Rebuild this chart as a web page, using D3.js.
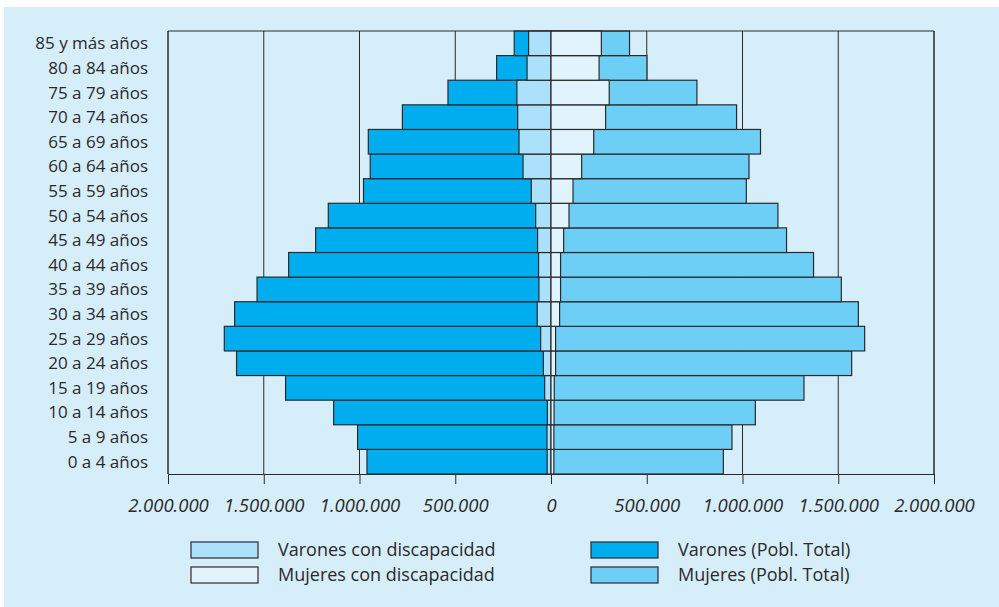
<!DOCTYPE html>
<html>
<head>
<meta charset="utf-8">
<script src="https://cdn.jsdelivr.net/npm/d3@7"></script>
<style>
  body { margin: 0; background: white; }
  text { font-family: "Open Sans", sans-serif; fill: #2b2a2a; }
</style>
</head>
<body>
<script>
var width = 999
var height = 607

var ageGroups = ["0 a 4 años", "5 a 9 años", "10 a 14 años", "15 a 19 años", "20 a 24 años",
    "25 a 29 años", "30 a 34 años", "35 a 39 años", "40 a 44 años", "45 a 49 años",
    "50 a 54 años", "55 a 59 años", "60 a 64 años", "65 a 69 años", "70 a 74 años",
    "75 a 79 años", "80 a 84 años", "85 y más años"]

var varonesTotal = [961000, 1010000, 1135000, 1386000, 1642000, 1706000, 1652000, 1535000, 1370000,
    1229000, 1163000, 979000, 944000, 954000, 776000, 538000, 284000, 192000]
var mujeresTotal = [900000, 945000, 1067000, 1321000, 1570000, 1638000, 1605000, 1516000, 1371000,
    1230000, 1185000, 1020000, 1034000, 1094000, 969000, 762000, 501000, 410000]
var varonesDisc = [20000, 21000, 19000, 33000, 40000, 54000, 72000, 63000, 65000,
    70000, 80000, 103000, 146000, 167000, 174000, 178000, 125000, 117000]
var mujeresDisc = [15000, 15000, 16000, 17000, 24000, 24000, 45000, 50000, 50000,
    66000, 94000, 115000, 160000, 223000, 285000, 304000, 251000, 263000]

var xTicks = [-2000000, -1500000, -1000000, -500000, 0, 500000, 1000000, 1500000, 2000000]

var legendLabels = ["Varones con discapacidad", "Mujeres con discapacidad", "Varones (Pobl. Total)", "Mujeres (Pobl. Total)"]

var bgColor = "#d6edfa"
var varonesColor = "#00aeef"
var mujeresColor = "#6dcff6"
var varonesDiscColor = "#abe1fa"
var mujeresDiscColor = "#e1f4fd"
var lineColor = "#2b2a2a"

var locale = d3.formatLocale({ decimal: ",", thousands: ".", grouping: [3], currency: ["", ""] })
var fmt = locale.format(",")

var svg = d3.select("body").append("svg")
    .attr("width", width)
    .attr("height", height)

svg.append("rect")
    .attr("x", 4).attr("y", 7)
    .attr("width", width - 4).attr("height", height - 7)
    .attr("fill", bgColor)

var x = d3.scaleLinear().domain([-2000000, 2000000]).range([168, 934])
var y = d3.scaleBand().domain(ageGroups.slice().reverse()).range([31, 474]).padding(0)

var rows = ageGroups.map(function (g, i) {
    return { group: g, vt: varonesTotal[i], mt: mujeresTotal[i], vd: varonesDisc[i], md: mujeresDisc[i] }
})

// grid
svg.append("g").selectAll("line")
    .data(xTicks)
    .enter().append("line")
    .attr("x1", function (d) { return x(d) }).attr("x2", function (d) { return x(d) })
    .attr("y1", 31).attr("y2", 474)
    .attr("stroke", lineColor)
    .attr("stroke-width", 1)

function drawBars(key, color, sign) {
    svg.append("g").selectAll("rect")
        .data(rows)
        .enter().append("rect")
        .attr("x", function (d) { return sign < 0 ? x(-d[key]) : x(0) })
        .attr("width", function (d) { return Math.abs(x(d[key]) - x(0)) })
        .attr("y", function (d) { return y(d.group) })
        .attr("height", y.bandwidth())
        .attr("fill", color)
        .attr("stroke", lineColor)
        .attr("stroke-width", 1.2)
}

drawBars("vt", varonesColor, -1)
drawBars("mt", mujeresColor, 1)
drawBars("vd", varonesDiscColor, -1)
drawBars("md", mujeresDiscColor, 1)

// frame
svg.append("path")
    .attr("d", "M" + x(-2000000) + "," + 474 + "V31H" + x(2000000) + "V474")
    .attr("fill", "none")
    .attr("stroke", lineColor)
    .attr("stroke-width", 1)

var axis = svg.append("g")
    .attr("transform", "translate(0,474)")
    .call(d3.axisBottom(x).tickValues(xTicks).tickSize(10).tickSizeOuter(0)
        .tickFormat(function (d) { return fmt(Math.abs(d)) }))
axis.select(".domain").attr("stroke", lineColor)
axis.selectAll(".tick line").attr("stroke", lineColor)
axis.selectAll(".tick text")
    .attr("y", 38).attr("dy", null)
    .style("font-family", "'Open Sans', sans-serif")
    .style("font-style", "italic")
    .style("font-size", "18.5px")
    .attr("fill", "#2b2a2a")

// category labels
svg.append("g").selectAll("text")
    .data(ageGroups)
    .enter().append("text")
    .attr("x", 148)
    .attr("y", function (d) { return y(d) + y.bandwidth() / 2 + 6 })
    .attr("text-anchor", "end")
    .style("font-size", "17px")
    .text(function (d) { return d })

// legend
var legendColors = [varonesDiscColor, mujeresDiscColor, varonesColor, mujeresColor]
var legend = svg.append("g").selectAll("g")
    .data(legendLabels)
    .enter().append("g")
    .attr("transform", function (d, i) {
        return "translate(" + (i < 2 ? 191 : 591) + "," + (i % 2 === 0 ? 542 : 567) + ")"
    })
legend.append("rect")
    .attr("width", 67).attr("height", 16)
    .attr("fill", function (d, i) { return legendColors[i] })
    .attr("stroke", lineColor)
    .attr("stroke-width", 1.2)
legend.append("text")
    .attr("x", 87).attr("y", 14)
    .style("font-size", "18px")
    .text(function (d) { return d })
</script>
</body>
</html>
